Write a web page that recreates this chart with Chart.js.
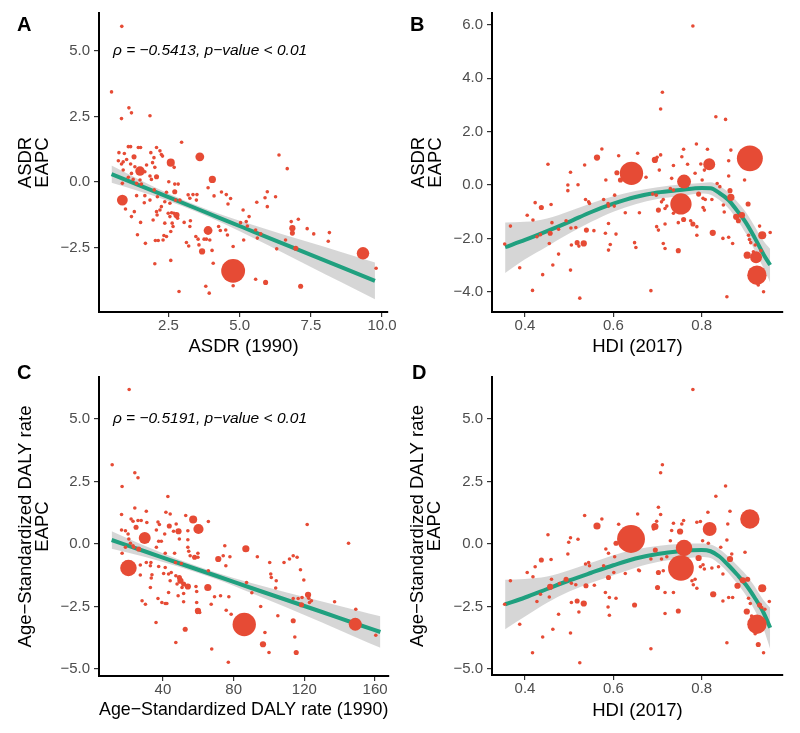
<!DOCTYPE html>
<html>
<head>
<meta charset="utf-8">
<script src="https://cdn.jsdelivr.net/npm/chart.js@4.4.1/dist/chart.umd.min.js"></script>
<style>
  body { margin: 0; background: #fff; width: 800px; height: 733px; position: relative; overflow: hidden; font-family: "Liberation Sans", Arial, sans-serif; }
  canvas { position: absolute; }
  .tag { position: absolute; font-weight: bold; font-size: 20px; line-height: 1; color: #000; }
</style>
</head>
<body>
<canvas id="cA" width="400" height="358" style="left:0;top:0"></canvas>
<canvas id="cB" width="400" height="358" style="left:400px;top:0"></canvas>
<canvas id="cC" width="400" height="375" style="left:0;top:358px"></canvas>
<canvas id="cD" width="400" height="375" style="left:400px;top:358px"></canvas>
<div class="tag" style="left:17px;top:14px">A</div>
<div class="tag" style="left:410px;top:14px">B</div>
<div class="tag" style="left:17px;top:362px">C</div>
<div class="tag" style="left:412px;top:362px">D</div>
<script>
// points: [x, y, size weight]
const asdrPts = [
  [0.86,5.94,1],[0.50,3.44,1],[1.11,2.83,1],[1.20,2.64,1],[0.85,2.42,1],[1.85,2.53,1],[2.96,1.52,1],[3.60,0.96,6],
  [1.09,1.35,1],[1.17,1.35,1],[1.44,1.32,1],[1.52,1.32,1],[2.08,1.32,1],[0.76,1.12,1],[0.95,1.09,1],[0.74,0.81,1],
  [1.29,0.96,2],[1.88,1.12,1],[2.20,1.19,1],[2.25,1.05,1],[1.99,0.93,1],[2.29,0.99,1],[2.58,0.74,5],[1.50,0.42,7],
  [0.91,0.77,1],[1.03,0.86,1],[0.85,0.69,1],[1.17,0.69,1],[1.32,0.58,1],[1.73,0.65,1],[1.94,0.74,1],[2.02,0.56,1],
  [1.67,0.39,1],[0.91,0.46,1],[1.20,0.33,1],[1.09,0.18,1],[1.26,0.10,1],[0.88,-0.05,1],[1.38,-0.05,1],[1.85,0.23,1],
  [2.08,0.20,2],[1.90,0.10,1],[1.50,0.08,1],[1.55,-0.08,1],[2.70,0.56,1],[4.04,0.10,4],[2.51,0.01,1],[2.72,-0.08,1],
  [2.84,-0.08,1],[0.88,-0.69,9],[0.99,-1.03,1],[1.20,-1.32,1],[1.30,-1.13,1],[1.52,-1.54,1],[1.38,-0.52,1],[1.67,-0.52,1],
  [1.65,-0.79,1],[1.85,-0.69,1],[2.00,-0.30,1],[2.11,-0.56,1],[2.25,-0.94,1],[2.20,-1.07,1],[2.08,-1.13,1],[2.10,-1.26,1],
  [1.96,-1.45,1],[2.37,-0.75,1],[2.43,-0.39,1],[2.55,-0.81,1],[2.72,-0.37,2],[2.75,-0.69,1],[2.90,-0.69,1],[2.49,-1.19,1],
  [2.55,-1.32,1],[2.61,-1.17,1],[2.69,-1.19,1],[2.78,-1.26,3],[2.82,-1.38,1],[2.63,-1.57,1],[2.66,-1.70,1],[2.37,-1.57,1],
  [2.58,-1.89,1],[2.43,-2.08,1],[2.31,-2.21,1],[2.14,-2.23,1],[2.04,-2.23,1],[2.34,-2.04,1],[3.05,-1.54,1],[3.25,-1.70,1],
  [3.27,-1.48,1],[3.19,-0.49,1],[3.25,-0.62,1],[3.36,-0.48,1],[3.50,-0.48,1],[3.48,-0.69,1],[3.89,-0.22,1],[4.10,-0.53,1],
  [4.36,-0.38,1],[4.53,-0.48,1],[4.68,-0.63,1],[4.59,-0.84,1],[3.89,-1.85,6],[3.46,-2.08,1],[3.54,-2.18,1],[3.75,-2.18,1],
  [3.83,-2.18,1],[3.95,-2.21,1],[3.57,-2.40,1],[3.68,-2.65,3],[4.03,-2.61,1],[4.07,-3.10,1],[3.13,-2.31,1],[3.21,-2.44,1],
  [1.41,-2.01,1],[1.69,-2.34,1],[2.02,-3.12,1],[2.58,-2.99,1],[2.87,-4.18,1],[3.81,-3.98,1],[3.93,-4.24,1],[4.77,-3.39,44],
  [4.77,-3.96,1],[4.26,-1.70,1],[4.51,-1.83,1],[4.57,-2.02,1],[4.32,-1.85,1],[4.77,-2.46,1],[5.12,-1.07,1],[5.14,-2.21,1],
  [5.23,-1.51,1],[5.03,-1.55,1],[6.38,1.03,1],[6.67,0.51,1],[5.97,-0.37,1],[5.89,-0.60,1],[6.26,-0.56,1],[5.60,-0.77,1],
  [5.97,-0.94,1],[5.33,-1.32,1],[5.27,-1.68,1],[5.56,-1.83,1],[5.74,-1.98,1],[5.62,-2.14,1],[6.81,-1.51,1],[7.06,-1.42,1],
  [6.85,-1.76,3],[6.85,-1.95,2],[6.61,-2.21,1],[7.37,-1.78,1],[7.60,-1.98,1],[8.15,-1.93,1],[8.11,-2.26,1],[6.30,-2.55,1],
  [6.97,-2.53,2],[9.33,-2.72,12],[9.79,-3.29,1],[5.56,-3.71,1],[5.91,-3.83,2],[7.14,-3.98,2]
];
const hdiAsdrPts = [
  [0.780,5.96,1],[0.711,3.48,1],[0.707,2.85,1],[0.832,2.56,1],[0.854,2.46,1],[0.788,1.54,1],
  [0.574,1.35,1],[0.563,1.03,3],[0.612,1.10,1],[0.655,1.19,1],[0.452,0.78,1],[0.535,0.75,1],[0.503,0.48,1],[0.641,0.44,42],
  [0.608,0.46,2],[0.616,0.19,2],[0.583,0.19,1],[0.497,0.00,1],[0.520,0.01,1],[0.497,-0.21,1],[0.537,-0.54,1],[0.544,-0.63,1],
  [0.546,-0.69,1],[0.578,-0.54,1],[0.588,-0.69,1],[0.589,-0.79,1],[0.603,-0.38,1],[0.602,-0.79,1],[0.423,-0.66,1],[0.437,-0.84,2],
  [0.459,-0.73,1],[0.405,-1.13,1],[0.418,-1.31,1],[0.367,-1.54,1],[0.461,-1.41,1],[0.493,-1.34,1],[0.476,-1.66,1],[0.457,-1.81,2],
  [0.435,-1.86,1],[0.427,-1.94,1],[0.504,-1.61,1],[0.515,-1.59,1],[0.539,-1.69,2],[0.556,-1.71,1],[0.589,-1.44,1],[0.582,-1.81,1],
  [0.606,-1.84,1],[0.627,-1.04,1],[0.659,-1.04,1],[0.354,-2.21,1],[0.455,-2.19,1],[0.505,-2.25,1],[0.518,-2.16,2],[0.533,-2.19,3],
  [0.522,-2.29,1],[0.593,-2.23,1],[0.589,-2.44,1],[0.648,-2.16,1],[0.651,-2.34,1],[0.476,-2.59,1],[0.463,-3.00,1],[0.388,-3.10,1],
  [0.440,-3.36,1],[0.503,-3.19,1],[0.417,-3.95,1],[0.524,-4.24,1],
  [0.694,0.94,3],[0.707,1.13,1],[0.699,1.04,1],[0.704,0.56,1],[0.674,0.29,1],[0.736,0.73,1],[0.755,1.06,1],[0.759,1.34,1],
  [0.768,0.78,1],[0.813,1.34,1],[0.798,0.79,1],[0.817,0.78,11],[0.806,0.56,1],[0.785,0.44,1],[0.866,1.31,1],[0.861,0.91,1],
  [0.909,1.00,52],[0.897,0.19,1],[0.861,0.34,1],[0.732,0.25,1],[0.760,0.13,15],[0.801,0.19,1],[0.835,0.06,1],[0.841,-0.06,1],
  [0.864,-0.21,2],[0.753,-0.71,35],[0.713,-0.54,1],[0.697,-0.38,1],[0.689,-0.34,1],[0.729,-0.13,1],[0.736,-0.19,1],[0.721,-0.79,1],
  [0.709,-0.63,1],[0.702,-0.94,2],[0.717,-0.88,1],[0.736,-1.06,1],[0.759,-1.29,2],[0.747,-1.41,1],[0.775,-1.34,1],[0.780,-1.46,2],
  [0.789,-1.56,1],[0.793,-0.34,2],[0.803,-0.50,1],[0.808,-0.54,1],[0.803,-0.84,1],[0.806,-0.94,1],[0.823,-0.54,1],[0.849,-0.75,1],
  [0.851,-1.01,1],[0.866,-0.46,4],[0.905,-0.71,2],[0.878,-1.19,3],[0.891,-1.13,3],[0.883,-1.34,2],[0.698,-1.56,1],[0.702,-1.69,1],
  [0.717,-1.46,1],[0.825,-1.79,3],[0.789,-1.88,1],[0.848,-2.00,1],[0.861,-1.96,1],[0.870,-2.19,1],[0.713,-2.19,1],[0.717,-2.38,1],
  [0.747,-2.46,2],[0.937,-1.88,5],[0.955,-1.78,1],[0.931,-1.54,1],[0.906,-1.88,1],[0.908,-2.04,1],[0.911,-2.16,1],[0.921,-2.25,1],
  [0.903,-2.63,4],[0.923,-2.71,11],[0.917,-2.50,1],[0.934,-2.46,1],[0.925,-3.38,29],[0.928,-3.75,1],[0.940,-4.00,1],[0.685,-3.96,1],
  [0.857,-4.19,1]
];
const dalyPts = [
  [20.9,6.18,1],[11.3,3.17,1],[24.1,2.85,1],[25.9,2.65,1],[16.9,2.30,1],[42.8,1.90,1],[24.1,1.44,1],[30.6,1.31,1],
  [41.7,1.27,1],[44.1,1.20,1],[52.9,1.14,1],[57.1,0.98,5],[65.7,0.90,1],[16.6,1.18,1],[22.0,1.00,1],[23.1,0.91,1],
  [25.9,0.94,1],[27.7,0.94,1],[30.9,0.86,1],[24.8,0.67,2],[16.6,0.56,1],[18.8,0.53,1],[37.2,0.88,1],[38.0,0.78,1],
  [36.3,0.56,1],[43.6,0.72,2],[47.5,0.80,1],[46.0,0.51,1],[48.8,0.51,3],[54.1,0.53,1],[60.1,0.60,8],[41.0,0.40,1],
  [49.3,0.20,1],[54.1,0.17,1],[29.7,0.24,11],[20.3,0.40,1],[20.7,0.20,1],[21.6,0.03,1],[23.1,-0.07,1],[26.3,-0.20,2],
  [23.5,-0.13,1],[18.8,-0.13,1],[16.9,-0.37,1],[37.6,0.11,1],[39.1,0.11,1],[36.3,-0.13,1],[41.3,-0.37,1],[46.6,-0.37,1],
  [54.1,-0.13,1],[54.6,-0.29,1],[55.4,-0.47,1],[57.9,-0.53,2],[59.8,-0.53,1],[59.8,-0.37,1],[65.7,-1.07,1],[71.3,-0.60,3],
  [75.0,-0.07,1],[75.6,-0.87,1],[74.1,-0.47,1],[77.9,-0.51,1],[86.9,-0.19,4],[20.5,-0.96,21],[27.2,-0.84,1],[30.6,-0.74,1],
  [33.2,-0.74,1],[32.9,-0.87,1],[37.6,-0.90,1],[41.3,-0.94,1],[43.2,-1.20,1],[44.7,-1.14,1],[33.8,-1.23,1],[33.4,-1.36,1],
  [27.2,-1.24,1],[32.9,-1.74,1],[40.4,-1.18,1],[47.1,-0.74,1],[50.4,-0.78,1],[47.3,-1.27,1],[49.3,-1.34,2],[49.9,-1.47,3],
  [48.0,-1.60,1],[51.7,-1.60,2],[54.1,-1.70,3],[50.8,-1.74,1],[43.2,-1.94,1],[44.1,-1.47,1],[48.6,-2.07,1],[51.7,-1.98,1],
  [51.7,-2.31,1],[37.2,-2.18,1],[39.4,-2.34,1],[41.3,-2.38,1],[42.2,-2.38,1],[28.2,-2.27,1],[30.1,-2.41,1],[58.7,-1.70,1],
  [59.1,-1.90,1],[59.1,-2.34,1],[65.4,-1.74,4],[67.3,-2.41,1],[69.2,-2.11,1],[72.6,-2.07,1],[77.3,-2.11,1],[75.8,-2.65,1],
  [78.6,-2.81,1],[59.8,-2.67,3],[60.8,-2.74,1],[59.4,-2.74,1],[36.1,-3.14,1],[52.6,-3.41,2],[47.3,-3.94,1],[67.6,-4.20,1],
  [77.0,-4.73,1],[86.0,-3.22,42],
  [121.6,0.78,1],[145.0,0.03,1],[93.4,-0.51,1],[100.4,-0.74,1],[108.5,-0.74,1],[111.6,-0.60,1],[113.7,-0.47,1],[115.9,-0.53,1],
  [117.8,-1.03,1],[101.0,-1.20,1],[101.3,-1.34,1],[104.1,-1.47,1],[103.8,-1.76,1],[119.7,-1.44,1],[87.3,-1.54,1],[90.3,-1.95,1],
  [122.1,-2.03,3],[122.5,-2.17,1],[124.0,-2.27,1],[122.9,-2.34,1],[113.7,-2.18,1],[116.5,-2.18,1],[118.7,-2.14,1],[118.4,-2.43,2],
  [137.1,-2.31,1],[149.1,-2.61,1],[95.3,-2.50,1],[105.0,-2.87,1],[113.7,-3.07,2],[148.8,-3.21,13],[160.4,-3.65,1],[97.7,-3.54,1],
  [96.6,-4.01,3],[114.6,-3.72,1],[100.0,-4.34,1],[115.4,-4.34,2]
];
const hdiDalyPts = [
  [0.780,6.18,1],[0.711,3.17,1],[0.707,2.85,1],[0.854,2.32,1],[0.832,1.91,1],
  [0.535,1.14,1],[0.574,1.00,1],[0.563,0.72,4],[0.612,0.79,1],[0.655,1.20,1],[0.452,0.37,1],[0.503,0.25,1],[0.520,0.19,1],
  [0.499,0.07,1],[0.497,-0.40,1],[0.640,0.20,60],[0.606,0.03,2],[0.583,-0.20,1],[0.589,-0.37,1],[0.603,-0.51,1],[0.578,-0.87,1],
  [0.589,-1.34,2],[0.601,-1.14,1],[0.627,-1.18,1],[0.657,-1.04,1],[0.537,-0.80,1],[0.544,-0.74,1],[0.546,-0.87,1],[0.423,-0.91,1],
  [0.437,-0.64,2],[0.459,-0.62,1],[0.405,-1.14,1],[0.418,-1.31,1],[0.367,-1.47,1],[0.460,-1.41,1],[0.493,-1.41,2],[0.478,-1.58,1],
  [0.457,-1.71,3],[0.435,-2.01,1],[0.427,-2.30,1],[0.505,-1.57,1],[0.515,-1.63,1],[0.538,-1.67,2],[0.557,-1.65,1],[0.582,-1.94,1],
  [0.591,-2.14,1],[0.606,-2.17,1],[0.354,-2.41,1],[0.455,-2.12,1],[0.505,-2.34,1],[0.518,-2.28,2],[0.533,-2.38,3],[0.522,-2.72,1],
  [0.588,-2.52,1],[0.591,-2.85,1],[0.648,-2.44,2],[0.476,-2.81,1],[0.388,-3.21,1],[0.463,-3.41,1],[0.440,-3.72,1],[0.503,-3.56,1],
  [0.417,-4.35,1],[0.524,-4.75,1],
  [0.814,1.27,1],[0.864,1.31,1],[0.707,1.18,1],[0.702,1.47,1],[0.698,0.91,1],[0.694,0.70,4],[0.691,0.60,1],[0.736,0.83,1],
  [0.759,0.94,1],[0.755,0.80,1],[0.751,0.50,3],[0.732,0.54,1],[0.789,0.87,1],[0.797,0.90,1],[0.818,0.60,15],[0.859,0.80,1],
  [0.909,1.00,29],[0.898,-0.33,1],[0.857,0.16,1],[0.843,-0.13,1],[0.864,-0.60,3],[0.868,-0.40,1],[0.802,0.13,1],[0.815,0.03,1],
  [0.760,-0.16,21],[0.753,-0.96,51],[0.729,0.13,1],[0.695,-0.24,2],[0.685,-0.60,1],[0.709,-0.60,1],[0.721,-0.51,1],[0.702,-1.14,2],
  [0.713,-1.07,1],[0.659,-1.07,1],[0.793,-0.56,3],[0.797,-0.91,1],[0.806,-1.00,1],[0.803,-0.83,1],[0.823,-0.96,1],[0.848,-1.20,1],
  [0.838,-0.91,1],[0.778,-1.47,1],[0.781,-1.63,1],[0.789,-1.77,1],[0.700,-1.74,2],[0.717,-1.94,1],[0.736,-1.94,1],[0.785,-1.41,1],
  [0.826,-2.01,3],[0.848,-2.28,1],[0.861,-2.14,1],[0.870,-2.14,1],[0.893,-1.45,3],[0.881,-1.67,3],[0.904,-1.41,2],[0.937,-1.77,5],
  [0.931,-2.44,2],[0.936,-2.54,1],[0.943,-2.61,1],[0.953,-2.30,1],[0.910,-2.38,1],[0.906,-2.17,1],[0.902,-2.70,3],[0.913,-2.88,1],
  [0.925,-3.21,29],[0.921,-3.59,1],[0.928,-4.02,2],[0.940,-4.35,1],[0.717,-2.78,1],[0.747,-2.68,2],[0.857,-3.95,1],[0.685,-4.19,1]
];

// fitted lines and their confidence bands
const asdrFitX = [0.5, 1.5, 2.5, 3.5, 4.5, 5.5, 6.5, 7.5, 8.5, 9.75];
const asdrFit  = [0.30, -0.14, -0.58, -1.02, -1.46, -1.90, -2.34, -2.78, -3.22, -3.77];
const asdrHi   = [0.63, 0.08, -0.44, -0.90, -1.30, -1.65, -1.99, -2.32, -2.65, -3.07];
const asdrLo   = [-0.03, -0.36, -0.72, -1.14, -1.62, -2.15, -2.69, -3.24, -3.79, -4.47];

const dalyFitX = [11, 30, 50, 70, 90, 110, 130, 150, 163];
const dalyFit  = [0.16, -0.30, -0.79, -1.27, -1.76, -2.24, -2.72, -3.21, -3.52];
const dalyHi   = [0.51, -0.08, -0.65, -1.14, -1.56, -1.94, -2.30, -2.66, -2.89];
const dalyLo   = [-0.19, -0.52, -0.93, -1.40, -1.96, -2.54, -3.14, -3.76, -4.15];

const hdiFitX    = [0.355, 0.40, 0.45, 0.50, 0.55, 0.60, 0.65, 0.70, 0.75, 0.80, 0.82, 0.84, 0.86, 0.88, 0.90, 0.92, 0.94, 0.955];
const hdiAsdrFit = [-2.33, -2.06, -1.73, -1.38, -1.01, -0.70, -0.45, -0.28, -0.19, -0.11, -0.12, -0.30, -0.55, -0.96, -1.41, -1.98, -2.60, -3.00];
const hdiAsdrHi  = [-1.40, -1.38, -1.25, -0.98, -0.68, -0.42, -0.22, -0.08, 0.02, 0.08, 0.10, -0.04, -0.27, -0.62, -1.02, -1.55, -2.10, -2.40];
const hdiAsdrLo  = [-3.30, -2.78, -2.30, -1.82, -1.38, -1.00, -0.72, -0.52, -0.42, -0.32, -0.36, -0.56, -0.86, -1.30, -1.82, -2.45, -3.12, -3.65];
const hdiDalyFit = [-2.41, -2.14, -1.80, -1.46, -1.15, -0.85, -0.58, -0.40, -0.29, -0.24, -0.29, -0.50, -0.84, -1.22, -1.63, -2.15, -2.75, -3.35];
const hdiDalyHi  = [-1.43, -1.40, -1.30, -1.05, -0.75, -0.45, -0.22, -0.08, 0.00, 0.02, -0.02, -0.20, -0.50, -0.85, -1.22, -1.70, -2.25, -2.55];
const hdiDalyLo  = [-3.41, -2.90, -2.35, -1.90, -1.55, -1.25, -0.95, -0.72, -0.60, -0.52, -0.56, -0.80, -1.15, -1.58, -2.05, -2.65, -3.40, -4.20];

// tick values
const asdrXTicks = [2.5, 5.0, 7.5, 10.0];
const asdrYTicks = [-2.5, 0.0, 2.5, 5.0];
const hdiXTicks = [0.4, 0.6, 0.8];
const hdiAsdrYTicks = [-4, -2, 0, 2, 4, 6];
const dalyXTicks = [40, 80, 120, 160];
const dalyYTicks = [-5, -2.5, 0, 2.5, 5];

const FONT = 'Liberation Sans';

function fmt(v, d) {
  const s = Math.abs(v).toFixed(d);
  return v < 0 ? '\u2212' + s : s;
}

const noteLabel = {
  id: 'noteLabel',
  afterDraw(chart, args, opts) {
    if (!opts.text) return;
    const { ctx, scales: { x, y } } = chart;
    ctx.save();
    ctx.font = 'italic 15.5px "' + FONT + '"';
    ctx.fillStyle = '#000';
    ctx.textBaseline = 'middle';
    ctx.textAlign = 'left';
    ctx.fillText(opts.text, x.getPixelForValue(opts.x), y.getPixelForValue(opts.y));
    ctx.restore();
  }
};

function panel(id, o) {
  const pts = o.pts.map(p => ({ x: p[0], y: p[1], r: 1.8 * Math.sqrt(p[2]) }));
  const curve = ys => o.fitX.map((x, i) => ({ x: x, y: ys[i] }));
  const clear = 'rgba(0,0,0,0)';
  new Chart(document.getElementById(id), {
    type: 'bubble',
    data: {
      datasets: [
        { type: 'line', data: curve(o.lo), borderColor: clear, borderWidth: 0, pointRadius: 0, fill: false, order: 3, cubicInterpolationMode: 'monotone' },
        { type: 'line', data: curve(o.hi), borderColor: clear, borderWidth: 0, pointRadius: 0, fill: '-1', backgroundColor: 'rgba(153,153,153,0.4)', order: 2, cubicInterpolationMode: 'monotone' },
        { type: 'line', data: curve(o.fit), borderColor: '#20a07f', borderWidth: 4, pointRadius: 0, fill: false, order: 1, cubicInterpolationMode: 'monotone', borderCapStyle: 'butt' },
        { data: pts, backgroundColor: '#e64b35', borderWidth: 0, order: 0 }
      ]
    },
    options: {
      responsive: false,
      animation: false,
      events: [],
      layout: { padding: { top: o.padTop, right: o.padRight, left: 0, bottom: 0 } },
      plugins: {
        legend: { display: false },
        tooltip: { enabled: false },
        noteLabel: o.note || {}
      },
      scales: {
        x: {
          type: 'linear', min: o.xMin, max: o.xMax,
          afterBuildTicks: s => { s.ticks = o.xTicks.map(v => ({ value: v })); },
          afterFit: s => { s.height = o.xH; },
          grid: { display: true, drawOnChartArea: false, drawTicks: true, tickLength: 5, color: '#333', lineWidth: 1.2 },
          border: { display: true, color: '#000', width: 2 },
          ticks: { padding: 0, color: '#4d4d4d', font: { family: FONT, size: 15 }, maxRotation: 0, autoSkip: false, callback: v => fmt(v, o.xDec) },
          title: { display: true, text: o.xTitle, color: '#000', font: { family: FONT, size: 18.5 }, padding: { top: 0, bottom: o.xTitlePad } }
        },
        y: {
          type: 'linear', min: o.yMin, max: o.yMax,
          afterBuildTicks: s => { s.ticks = o.yTicks.map(v => ({ value: v })); },
          afterFit: s => { s.width = o.yW; },
          grid: { display: true, drawOnChartArea: false, drawTicks: true, tickLength: 5, color: '#333', lineWidth: 1.2 },
          border: { display: true, color: '#000', width: 2 },
          ticks: { padding: 4, color: '#4d4d4d', font: { family: FONT, size: 15 }, autoSkip: false, callback: v => fmt(v, 1) },
          title: { display: true, text: o.yTitle, color: '#000', font: { family: FONT, size: 18.5, lineHeight: 0.946 }, padding: { top: o.yTitlePad, bottom: 0 } }
        }
      }
    },
    plugins: [noteLabel]
  });
}

panel('cA', {
  pts: asdrPts, fitX: asdrFitX, fit: asdrFit, hi: asdrHi, lo: asdrLo,
  xMin: 0.06, xMax: 10.21, yMin: -4.96, yMax: 6.45,
  xTicks: asdrXTicks, yTicks: asdrYTicks, xDec: 1,
  padTop: 13, padRight: 10, xH: 46, yW: 99, xTitlePad: 0, yTitlePad: 17,
  xTitle: 'ASDR (1990)', yTitle: ['ASDR', 'EAPC'],
  note: { text: '\u03c1 = \u22120.5413, p\u2212value < 0.01', x: 0.55, y: 5.0 }
});
panel('cB', {
  pts: hdiAsdrPts, fitX: hdiFitX, fit: hdiAsdrFit, hi: hdiAsdrHi, lo: hdiAsdrLo,
  xMin: 0.3253, xMax: 0.984, yMin: -4.76, yMax: 6.45,
  xTicks: hdiXTicks, yTicks: hdiAsdrYTicks, xDec: 1,
  padTop: 13, padRight: 17, xH: 46, yW: 92, xTitlePad: 0, yTitlePad: 10,
  xTitle: 'HDI (2017)', yTitle: ['ASDR', 'EAPC']
});
panel('cC', {
  pts: dalyPts, fitX: dalyFitX, fit: dalyFit, hi: dalyHi, lo: dalyLo,
  xMin: 3.84, xMax: 167.5, yMin: -5.28, yMax: 6.68,
  xTicks: dalyXTicks, yTicks: dalyYTicks, xDec: 0,
  padTop: 19, padRight: 10, xH: 57, yW: 99, xTitlePad: 12, yTitlePad: 17,
  xTitle: 'Age\u2212Standardized DALY rate (1990)', yTitle: ['Age\u2212Standardized DALY rate', 'EAPC'],
  note: { text: '\u03c1 = \u22120.5191, p\u2212value < 0.01', x: 11.7, y: 5.0 }
});
panel('cD', {
  pts: hdiDalyPts, fitX: hdiFitX, fit: hdiDalyFit, hi: hdiDalyHi, lo: hdiDalyLo,
  xMin: 0.3253, xMax: 0.984, yMin: -5.24, yMax: 6.68,
  xTicks: hdiXTicks, yTicks: dalyYTicks, xDec: 1,
  padTop: 19, padRight: 17, xH: 58, yW: 92, xTitlePad: 11, yTitlePad: 9,
  xTitle: 'HDI (2017)', yTitle: ['Age\u2212Standardized DALY rate', 'EAPC']
});
</script>
</body>
</html>
